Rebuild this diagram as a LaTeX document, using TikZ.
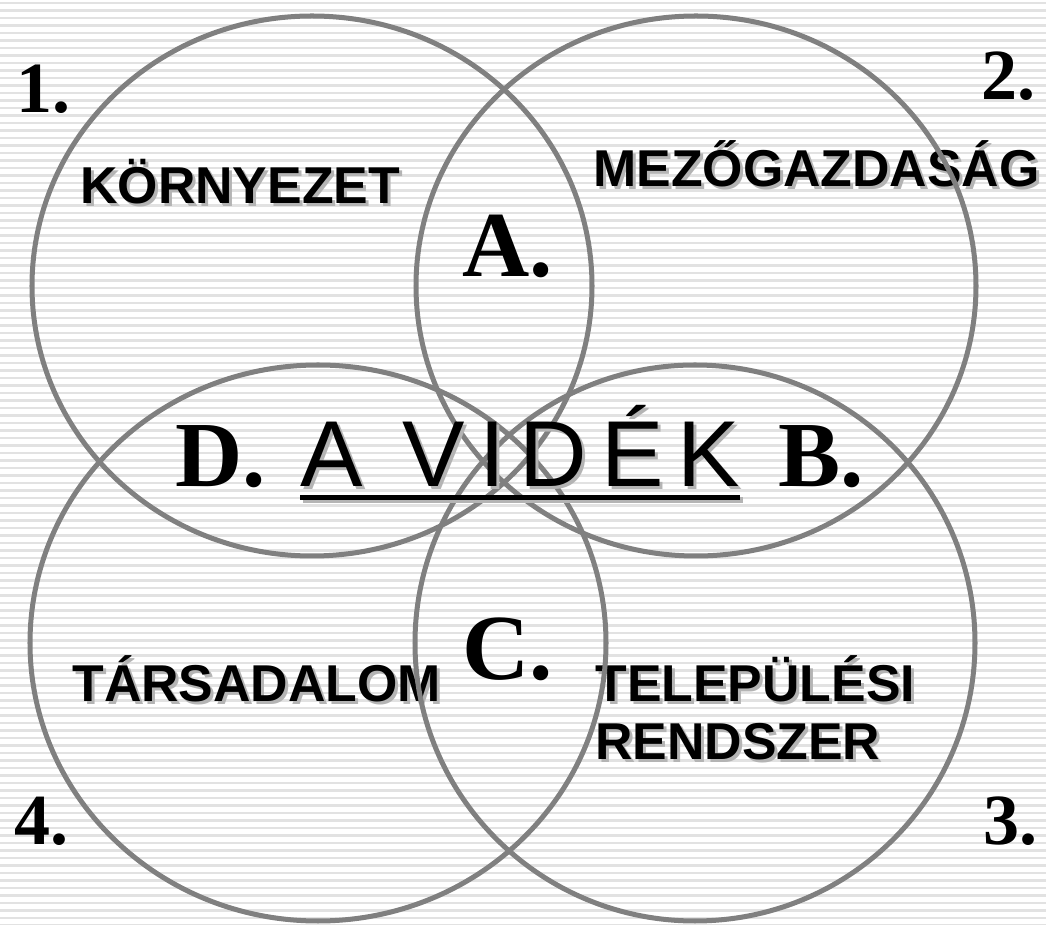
\documentclass[tikz,border=0pt]{standalone}
\usepackage{fontspec}
\setmainfont{Liberation Serif}
\setsansfont{Liberation Sans}
\usepackage{xcolor}
\usepackage{tikz}
\usetikzlibrary{positioning}
\definecolor{ringGray}{RGB}{128,128,128}
\definecolor{stripeGray}{RGB}{226,226,226}
\definecolor{shadowGray}{RGB}{180,180,180}
\newcommand{\shadowed}[1]{\makebox[0pt][l]{\kern1.7pt\raisebox{-1.7pt}{\textcolor{shadowGray}{#1}}}#1}

\begin{document}
\begin{tikzpicture}[x=0.02cm,y=-0.02cm,
    ring/.style={draw=ringGray, line width=2.85pt},
    topic/.style={font=\sffamily\bfseries\fontsize{29.5}{30}\selectfont, inner sep=0pt, anchor=base west},
    tag/.style={font=\bfseries\fontsize{53}{54}\selectfont, inner sep=0pt, anchor=base west},
    corner/.style={font=\bfseries\fontsize{41}{42}\selectfont, inner sep=0pt}]
    \useasboundingbox (0,0) rectangle (1046,925);

    % striped background
    \fill[white] (0,0) rectangle (1046,925);
    \foreach \s in {0,...,123}
        \fill[stripeGray] (0,{\s*7.5+2}) rectangle (1046,{\s*7.5+4.5});

    % field names
    \node[topic] (env) at (80,204) {\shadowed{KÖRNYEZET}};
    \node[topic] (agri) at (593,187) {\shadowed{MEZŐGAZDASÁG}};
    \node[topic] (soc) at (72,702) {\shadowed{TÁRSADALOM}};
    \node[topic] (sett) at (595,702) {\shadowed{TELEPÜLÉSI}};
    \node[topic] (sys) at (595,760) {\shadowed{RENDSZER}};

    % four circles
    \coordinate (c1) at (312,286);
    \coordinate (c2) at (696,286);
    \coordinate (c3) at (695,643);
    \coordinate (c4) at (318,643);
    \draw[ring] (c1) ellipse [x radius=280, y radius=270];
    \draw[ring] (c2) ellipse [x radius=280, y radius=270];
    \draw[ring] (c3) ellipse [x radius=280, y radius=278];
    \draw[ring] (c4) ellipse [x radius=288, y radius=278];

    % corner numbers
    \node[corner, anchor=base west] (n1) at (16,113) {1.};
    \node[corner, anchor=base east] (n2) at (1036,100) {2.};
    \node[corner, anchor=base east] (n3) at (1038,845) {3.};
    \node[corner, anchor=base west] (n4) at (14,845) {4.};

    % overlap letters
    \node[tag] (la) at (462,277) {A.};
    \node[tag] (lc) at (462,680) {C.};
    \node[tag] (ld) at (175,487) {D.};
    \node[tag] (lb) at (778,487) {B.};

    % title in the middle
    \node[font=\sffamily\fontsize{53.3}{54}\selectfont\addfontfeature{LetterSpace=15}, inner sep=0pt, anchor=base west]
        (videk) at (300,487) {\shadowed{A VIDÉK}};
    \draw[shadowGray, line width=2.85pt] ([xshift=1.7pt,yshift=-7.4pt]videk.base west) -- ([xshift=1.7pt,yshift=-7.4pt]videk.base east);
    \draw[black, line width=2.85pt] ([yshift=-5.7pt]videk.base west) -- ([yshift=-5.7pt]videk.base east);
\end{tikzpicture}
\end{document}
